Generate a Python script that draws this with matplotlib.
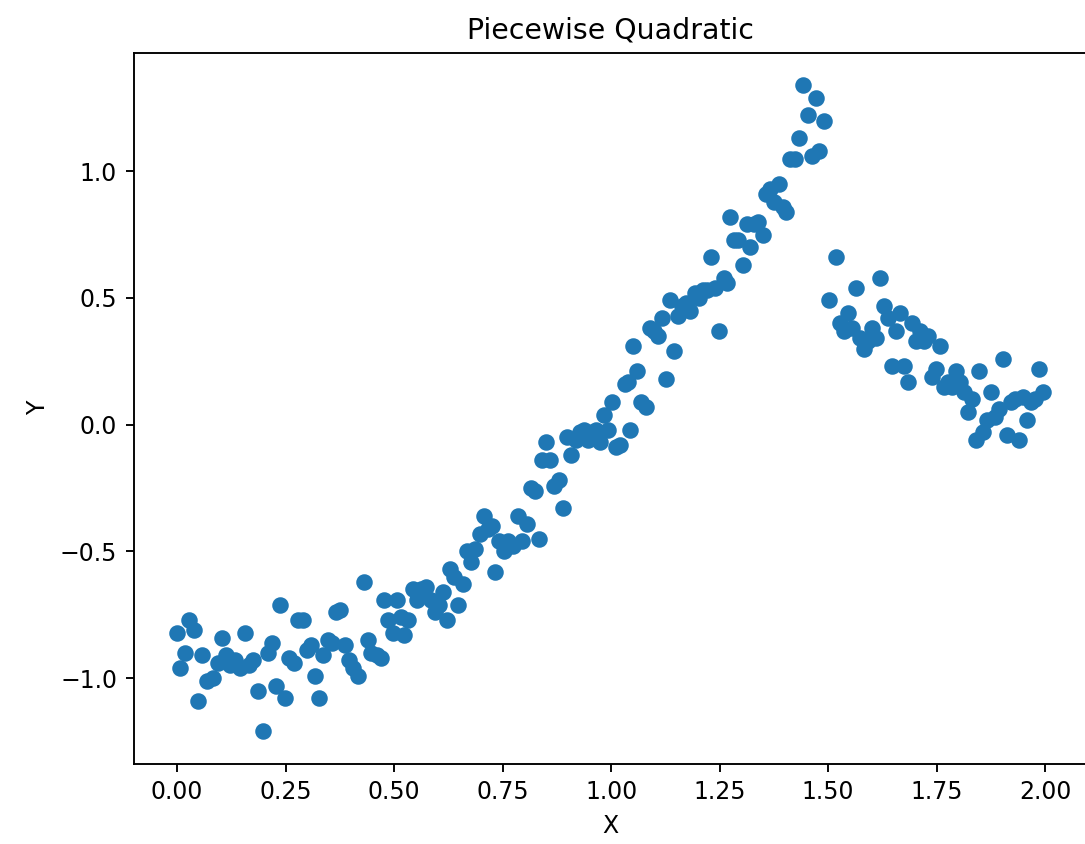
import numpy as np
import matplotlib
matplotlib.use('Agg')
import matplotlib.pyplot as plt

# values
x = [0.000, 0.007, 0.018, 0.028, 0.039, 0.048, 0.058, 0.069, 0.083, 0.095,
     0.104, 0.113, 0.122, 0.134, 0.145, 0.157, 0.166, 0.176, 0.187, 0.199,
     0.210, 0.219, 0.229, 0.238, 0.249, 0.259, 0.270, 0.279, 0.291, 0.300,
     0.309, 0.319, 0.328, 0.337, 0.349, 0.358, 0.367, 0.376, 0.388, 0.397,
     0.406, 0.418, 0.430, 0.439, 0.448, 0.460, 0.471, 0.476, 0.485, 0.497,
     0.506, 0.515, 0.524, 0.533, 0.543, 0.552, 0.561, 0.573, 0.584, 0.594,
     0.603, 0.612, 0.621, 0.628, 0.637, 0.647, 0.658, 0.667, 0.677, 0.686,
     0.697, 0.707, 0.716, 0.725, 0.732, 0.741, 0.753, 0.762, 0.774, 0.785,
     0.794, 0.806, 0.815, 0.824, 0.834, 0.841, 0.850, 0.859, 0.868, 0.880,
     0.889, 0.898, 0.908, 0.919, 0.928, 0.938, 0.947, 0.956, 0.965, 0.975,
     0.984, 0.993, 1.002, 1.012, 1.021, 1.032, 1.039, 1.044, 1.051, 1.060,
     1.069, 1.081, 1.090, 1.099, 1.109, 1.118, 1.127, 1.136, 1.145, 1.155,
     1.164, 1.173, 1.182, 1.194, 1.203, 1.212, 1.222, 1.231, 1.240, 1.249,
     1.259, 1.268, 1.275, 1.284, 1.293, 1.303, 1.312, 1.321, 1.330, 1.339,
     1.349, 1.358, 1.367, 1.376, 1.386, 1.395, 1.404, 1.413, 1.423, 1.432,
     1.443, 1.453, 1.462, 1.471, 1.480, 1.490,
     1.503, 1.517, 1.527, 1.536, 1.545, 1.554, 1.564, 1.573, 1.582, 1.591,
     1.600, 1.610, 1.619, 1.628, 1.637, 1.647, 1.656, 1.665, 1.674, 1.684,
     1.693, 1.702, 1.711, 1.721, 1.730, 1.739, 1.748, 1.758, 1.767, 1.776,
     1.785, 1.794, 1.804, 1.813, 1.822, 1.831, 1.841, 1.848, 1.857, 1.866,
     1.875, 1.885, 1.894, 1.903, 1.912, 1.921, 1.931, 1.940, 1.949, 1.958,
     1.968, 1.977, 1.986, 1.995]
y = [-0.82, -0.96, -0.90, -0.77, -0.81, -1.09, -0.91, -1.01, -1.00, -0.94,
     -0.84, -0.91, -0.95, -0.93, -0.96, -0.82, -0.95, -0.93, -1.05, -1.21,
     -0.90, -0.86, -1.03, -0.71, -1.08, -0.92, -0.94, -0.77, -0.77, -0.89,
     -0.87, -0.99, -1.08, -0.91, -0.85, -0.86, -0.74, -0.73, -0.87, -0.93,
     -0.96, -0.99, -0.62, -0.85, -0.90, -0.91, -0.92, -0.69, -0.77, -0.82,
     -0.69, -0.76, -0.83, -0.77, -0.65, -0.69, -0.65, -0.64, -0.69, -0.74,
     -0.71, -0.66, -0.77, -0.57, -0.60, -0.71, -0.63, -0.50, -0.54, -0.49,
     -0.43, -0.36, -0.41, -0.40, -0.58, -0.46, -0.50, -0.46, -0.48, -0.36,
     -0.46, -0.39, -0.25, -0.26, -0.45, -0.14, -0.07, -0.14, -0.24, -0.22,
     -0.33, -0.05, -0.12, -0.06, -0.03, -0.02, -0.06, -0.03, -0.02, -0.07,
     0.04, -0.02, 0.09, -0.09, -0.08, 0.16, 0.17, -0.02, 0.31, 0.21,
     0.09, 0.07, 0.38, 0.37, 0.35, 0.42, 0.18, 0.49, 0.29, 0.43,
     0.47, 0.48, 0.45, 0.52, 0.50, 0.53, 0.53, 0.66, 0.54, 0.37,
     0.58, 0.56, 0.82, 0.73, 0.73, 0.63, 0.79, 0.70, 0.79, 0.80,
     0.75, 0.91, 0.93, 0.88, 0.95, 0.86, 0.84, 1.05, 1.05, 1.13,
     1.34, 1.22, 1.06, 1.29, 1.08, 1.20,
     0.49, 0.66, 0.40, 0.37, 0.44, 0.38, 0.54, 0.34, 0.30, 0.33,
     0.38, 0.34, 0.58, 0.47, 0.42, 0.23, 0.37, 0.44, 0.23, 0.17,
     0.40, 0.33, 0.37, 0.33, 0.35, 0.19, 0.22, 0.31, 0.15, 0.17,
     0.15, 0.21, 0.17, 0.13, 0.05, 0.10, -0.06, 0.21, -0.03, 0.02,
     0.13, 0.03, 0.06, 0.26, -0.04, 0.09, 0.10, -0.06, 0.11, 0.02,
     0.09, 0.10, 0.22, 0.13]

fig = plt.figure(figsize=(1085 / 170, 844 / 170), dpi=170)
ax = fig.add_axes([133.7 / 1085, 80.3 / 844, 952.6 / 1085, 711 / 844])
ax.scatter(x, y)
ax.set_title('Piecewise Quadratic')
ax.set_xlabel('X')
ax.set_ylabel('Y')

fig.savefig('out.png', dpi=170)
